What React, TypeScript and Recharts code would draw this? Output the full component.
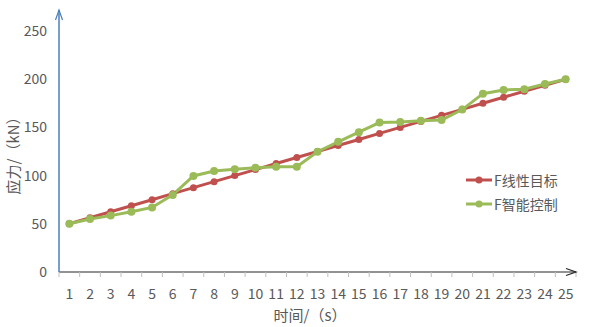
import { LineChart, Line, XAxis, YAxis } from "recharts";

const times = ["1", "2", "3", "4", "5", "6", "7", "8", "9", "10", "11", "12", "13", "14", "15", "16", "17", "18", "19", "20", "21", "22", "23", "24", "25"];
const linearTarget = [50, 56.25, 62.5, 68.75, 75, 81.25, 87.5, 93.75, 100, 106.25, 112.5, 118.75, 125, 131.25, 137.5, 143.75, 150, 156.25, 162.5, 168.75, 175, 181.25, 187.5, 193.75, 200];
const smartControl = [50, 55, 58.5, 62.5, 67, 80, 99.6, 104.8, 106.5, 108.2, 109.2, 109.2, 124.8, 135, 145, 155, 155.6, 157, 157.7, 168.5, 185, 188.8, 189.5, 195, 200];
const yTicks = [0, 50, 100, 150, 200, 250];

const data = times.map((t, i) => ({ t, linear: linearTarget[i], smart: smartControl[i] }));

const W = 590;
const H = 327;
const LEFT = 59;
const RIGHT = 576;
const TOP = 31;
const BOTTOM = 272;
const BAND = (RIGHT - LEFT) / times.length;
const FONT = "'Noto Sans CJK SC', 'Noto Sans', sans-serif";
const RED = "#C0504D";
const GREEN = "#9BBB59";
const TEXT = "#595959";

const XTick = (props: any) => {
  const { x, payload, index } = props;
  const half = BAND / 2;
  return (
    <g>
      <line x1={x - half} x2={x - half} y1={BOTTOM} y2={BOTTOM + 5} stroke="#bfbfbf" />
      {index === times.length - 1 && (
        <line x1={x + half} x2={x + half} y1={BOTTOM} y2={BOTTOM + 5} stroke="#bfbfbf" />
      )}
      <text x={x} y={299} textAnchor="middle" fill={TEXT} fontSize={14} fontFamily={FONT}>
        {payload.value}
      </text>
    </g>
  );
};

const series = [
  { name: "F线性目标", color: RED },
  { name: "F智能控制", color: GREEN },
];

export default function App() {
  return (
    <div style={{ position: "absolute", left: 0, top: 0, width: W, height: H, background: "#fff" }}>
      <LineChart
        width={W}
        height={H}
        data={data}
        margin={{ top: TOP, right: W - RIGHT, left: 9, bottom: 25 }}
      >
        <XAxis
          dataKey="t"
          height={30}
          padding={{ left: BAND / 2, right: BAND / 2 }}
          axisLine={{ stroke: "#262626", strokeWidth: 1.2 }}
          tickLine={false}
          tick={<XTick />}
          interval={0}
        />
        <YAxis
          width={50}
          domain={[0, 250]}
          ticks={yTicks}
          axisLine={{ stroke: "#4A7EBB", strokeWidth: 1.5 }}
          tickLine={false}
          tickSize={0}
          tickMargin={12}
          tick={{ fill: TEXT, fontSize: 14, fontFamily: FONT }}
        />
        <Line
          dataKey="linear"
          name="F线性目标"
          stroke={RED}
          strokeWidth={3}
          dot={{ r: 3.5, fill: RED, stroke: RED, strokeWidth: 0 }}
          isAnimationActive={false}
        />
        <Line
          dataKey="smart"
          name="F智能控制"
          stroke={GREEN}
          strokeWidth={3}
          dot={{ r: 4, fill: GREEN, stroke: GREEN, strokeWidth: 0 }}
          isAnimationActive={false}
        />
      </LineChart>
      <svg width={W} height={H} style={{ position: "absolute", left: 0, top: 0, pointerEvents: "none" }}>
        <line x1={LEFT} x2={LEFT} y1={10} y2={TOP} stroke="#4A7EBB" strokeWidth={1.5} />
        <polyline points={`${LEFT - 3.5},20 ${LEFT},10 ${LEFT + 3.5},20`} fill="none" stroke="#4A7EBB" strokeWidth={1.2} />
        <polyline points={`${RIGHT - 10},268.5 ${RIGHT},${BOTTOM} ${RIGHT - 10},275.5`} fill="none" stroke="#262626" strokeWidth={1.2} />
        <text x={310} y={321} textAnchor="middle" fill={TEXT} fontSize={15} fontFamily={FONT}>
          时间/（s）
        </text>
        <text
          x={19}
          y={152}
          textAnchor="middle"
          fill={TEXT}
          fontSize={15}
          fontFamily={FONT}
          transform="rotate(-90 19 152)"
        >
          应力/（kN）
        </text>
      </svg>
      <div style={{ position: "absolute", left: 466, top: 168, fontFamily: FONT, fontSize: 14, color: TEXT }}>
        {series.map((s) => (
          <div key={s.name} style={{ display: "flex", alignItems: "center", height: 24 }}>
            <svg width={26} height={10} style={{ marginRight: 2 }}>
              <line x1={0} x2={26} y1={5} y2={5} stroke={s.color} strokeWidth={3} />
              <circle cx={13} cy={5} r={3.5} fill={s.color} />
            </svg>
            <span>{s.name}</span>
          </div>
        ))}
      </div>
    </div>
  );
}
